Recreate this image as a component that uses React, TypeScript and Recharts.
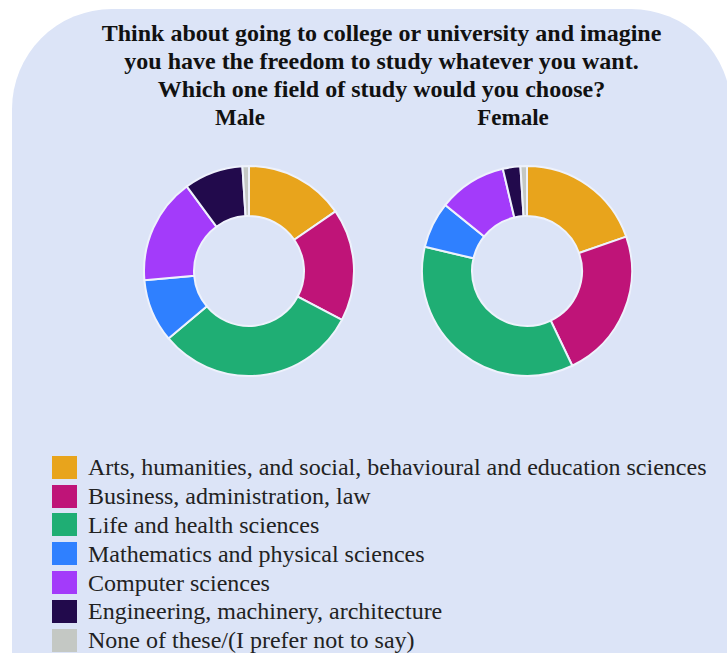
import { Cell, Pie, PieChart } from "recharts";

const categories = [
  "Arts, humanities, and social, behavioural and education sciences",
  "Business, administration, law",
  "Life and health sciences",
  "Mathematics and physical sciences",
  "Computer sciences",
  "Engineering, machinery, architecture",
  "None of these/(I prefer not to say)",
];

const colors = ["#e8a41c", "#bf1478", "#1fae74", "#2f80ff", "#a33bfa", "#220a4c", "#c4c8c4"];

// share of respondents (%)
const maleShare = [15.4, 17.3, 31.2, 9.7, 16.3, 9.1, 1.0];
const femaleShare = [19.7, 23.2, 35.8, 7.1, 10.5, 2.7, 1.0];

const titleLines = [
  "Think about going to college or university and imagine",
  "you have the freedom to study whatever you want.",
  "Which one field of study would you choose?",
];

const groups = ["Male", "Female"];

const SERIF = '"Liberation Serif", "Times New Roman", serif';
const PANEL = "#dce4f7";

function toRows(values: number[]) {
  return categories.map((name, i) => ({ name, value: values[i] }));
}

export default function App() {
  const male = toRows(maleShare);
  const female = toRows(femaleShare);

  return (
    <div
      style={{
        position: "absolute",
        left: 0,
        top: 0,
        width: 727,
        height: 653,
        overflow: "hidden",
        background: "#ffffff",
        fontFamily: SERIF,
      }}
    >
      {/* rounded backdrop panel, runs off the right and bottom edges */}
      <div
        style={{
          position: "absolute",
          left: 12,
          top: 9,
          width: 719,
          height: 760,
          borderRadius: 100,
          background: PANEL,
        }}
      />

      <div
        style={{
          position: "absolute",
          left: 0,
          top: 19,
          width: 763,
          textAlign: "center",
          fontWeight: 700,
          fontSize: 24,
          lineHeight: "28px",
          color: "#111",
        }}
      >
        {titleLines.map((t) => (
          <div key={t}>{t}</div>
        ))}
      </div>

      {groups.map((g, i) => (
        <div
          key={g}
          style={{
            position: "absolute",
            top: 104,
            left: i === 0 ? 190 : 463,
            width: 100,
            textAlign: "center",
            fontWeight: 700,
            fontSize: 23,
            lineHeight: "28px",
            color: "#111",
          }}
        >
          {g}
        </div>
      ))}

      <div style={{ position: "absolute", left: 0, top: 0 }}>
        <PieChart width={727} height={653}>
          <Pie
            data={male}
            dataKey="value"
            nameKey="name"
            cx={244}
            cy={266}
            innerRadius={55}
            outerRadius={105}
            startAngle={90}
            endAngle={-270}
            stroke="#eef2fc"
            strokeWidth={2}
            isAnimationActive={false}
          >
            {male.map((d, i) => (
              <Cell key={d.name} fill={colors[i]} />
            ))}
          </Pie>
          <Pie
            data={female}
            dataKey="value"
            nameKey="name"
            cx={522}
            cy={266}
            innerRadius={55}
            outerRadius={105}
            startAngle={90}
            endAngle={-270}
            stroke="#eef2fc"
            strokeWidth={2}
            isAnimationActive={false}
          >
            {female.map((d, i) => (
              <Cell key={d.name} fill={colors[i]} />
            ))}
          </Pie>
        </PieChart>
      </div>

      <div style={{ position: "absolute", left: 52, top: 453 }}>
        {categories.map((c, i) => (
          <div
            key={c}
            style={{ display: "flex", alignItems: "center", height: 28.8, whiteSpace: "nowrap" }}
          >
            <div style={{ width: 25, height: 23, background: colors[i], flex: "none" }} />
            <span style={{ marginLeft: 11, fontSize: 24, lineHeight: "28px", color: "#222" }}>{c}</span>
          </div>
        ))}
      </div>
    </div>
  );
}
